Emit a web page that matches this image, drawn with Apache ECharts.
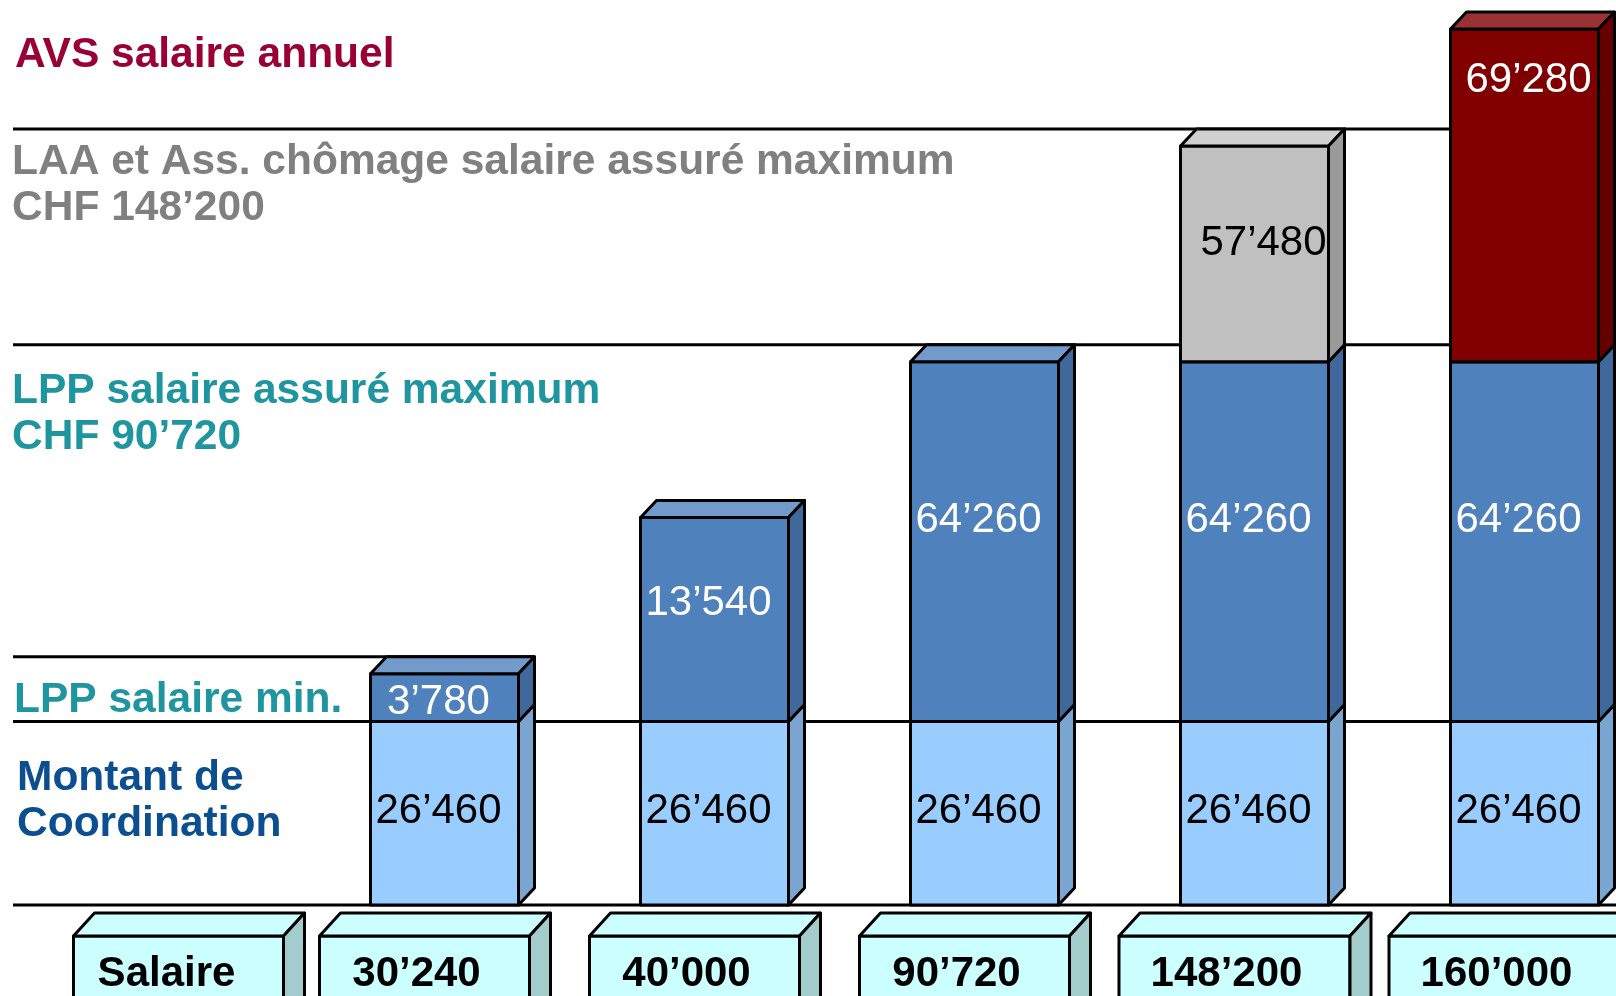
<!DOCTYPE html>
<html>
<head>
<meta charset="utf-8">
<title>Salaire assuré</title>
<script src="https://cdn.jsdelivr.net/npm/echarts@6.0.0/dist/echarts.min.js"></script>
<style>
  html, body { margin: 0; padding: 0; background: #fff; }
  #chart { width: 1616px; height: 996px; }
</style>
</head>
<body>
<div id="chart"></div>
<script>
// one bar per salary, stacked from the bottom up
const salaries = [30240, 40000, 90720, 148200, 160000]
const coordination = [26460, 26460, 26460, 26460, 26460]
const lppInsured = [3780, 13540, 64260, 64260, 64260]
const laaInsured = [null, null, null, 57480, null]
const avsAnnual = [null, null, null, null, 69280]
// band limits drawn as horizontal rules
const bandLevels = [0, 26460, 30240, 90720, 148200]
const headLabel = 'Salaire'

const fmt = v => String(v).replace(/\B(?=(\d{3})+(?!\d))/g, '\u2019')
const categories = [headLabel].concat(salaries.map(fmt))

const FONT = 'Liberation Sans, Arial, sans-serif'
const BAR_W = 148
const BAR_DX = 16
const BAR_DY = 17
const BAR_SHIFT = 20
const BOX_DX = 21
const BOX_DY = 23

// labelAt: where the value sits, as a share of the segment height from its top
const segments = [
  { name: 'Montant de coordination', values: coordination, text: '#000', labelAt: [0.49], labelDx: -6,
    colors: { front: '#99ccff', top: '#b3d9ff', side: '#7ba5d1' } },
  { name: 'LPP', values: lppInsured, text: '#fff', labelAt: [0.6, 0.42, 0.44, 0.44, 0.44], labelDx: -6,
    colors: { front: '#4f81bd', top: '#729acb', side: '#41689a' } },
  { name: 'LAA', values: laaInsured, text: '#000', labelAt: [0.45], labelDx: 9,
    colors: { front: '#c0c0c0', top: '#d0d0d0', side: '#9a9a9a' } },
  { name: 'AVS', values: avsAnnual, text: '#fff', labelAt: [0.155], labelDx: 4,
    colors: { front: '#800000', top: '#993333', side: '#660000' } }
]

function cube (x, yTop, yBot, w, dx, dy, c) {
  const l = x - w / 2
  const r = x + w / 2
  const line = { stroke: '#000', lineWidth: 3, lineJoin: 'round' }
  return [
    { type: 'polygon', shape: { points: [[l, yTop], [r, yTop], [r, yBot], [l, yBot]] }, style: Object.assign({ fill: c.front }, line) },
    { type: 'polygon', shape: { points: [[l, yTop], [l + dx, yTop - dy], [r + dx, yTop - dy], [r, yTop]] }, style: Object.assign({ fill: c.top }, line) },
    { type: 'polygon', shape: { points: [[r, yTop], [r + dx, yTop - dy], [r + dx, yBot - dy], [r, yBot]] }, style: Object.assign({ fill: c.side }, line) }
  ]
}

// running totals so each segment sits on the previous one
const base = salaries.map(() => 0)
const barSeries = segments.map(seg => {
  const data = []
  seg.values.forEach((v, i) => {
    if (v == null) return
    data.push([i + 1, base[i], base[i] + v, v])
    base[i] += v
  })
  return {
    type: 'custom',
    name: seg.name,
    clip: false,
    z: 3,
    encode: { x: 0, y: [1, 2] },
    data: data,
    renderItem (params, api) {
      const p0 = api.coord([api.value(0), api.value(1)])
      const p1 = api.coord([api.value(0), api.value(2)])
      const x = p0[0] + BAR_SHIFT
      const at = seg.labelAt[Math.min(api.value(0) - 1, seg.labelAt.length - 1)]
      const children = cube(x, p1[1], p0[1], BAR_W, BAR_DX, BAR_DY, seg.colors)
      children.push({
        type: 'text',
        x: x + seg.labelDx,
        y: p1[1] + at * (p0[1] - p1[1]),
        style: { text: fmt(api.value(3)), fill: seg.text, font: '42px ' + FONT, align: 'center', verticalAlign: 'middle' }
      })
      return { type: 'group', children: children }
    }
  }
})

const boxSeries = {
  type: 'custom',
  clip: false,
  z: 3,
  encode: { x: 0, y: 1 },
  data: categories.map((c, i) => [i, 0]),
  renderItem (params, api) {
    const i = api.value(0)
    const label = categories[i]
    const p = api.coord([i, 0])
    const x = p[0] + (i === 0 ? BAR_SHIFT + 4 : 0)
    const w = /^\d{3}/.test(label) ? 231 : 210
    const yTop = p[1] + 31
    const children = cube(x, yTop, yTop + 200, w, BOX_DX, BOX_DY, { front: '#ccffff', top: '#ccffff', side: '#a3cccc' })
    children.push({
      type: 'text',
      x: x - (i === 0 ? 12 : 8),
      y: yTop + 38,
      style: { text: label, fill: '#000', font: 'bold 42px ' + FONT, align: 'center', verticalAlign: 'middle' }
    })
    return { type: 'group', children: children }
  }
}

const ruleSeries = {
  type: 'custom',
  clip: false,
  z: 1,
  encode: { x: 0, y: 1 },
  data: bandLevels.map(v => [0, v]),
  renderItem (params, api) {
    const v = api.value(1)
    let y = api.coord([0, v])[1]
    // rules above the coordination amount follow the back edge of the boxes
    if (v > coordination[0]) y -= BAR_DY
    let x2 = api.getWidth()
    if (v === coordination[0] + lppInsured[0]) {
      x2 = api.coord([1, v])[0] + BAR_SHIFT + BAR_W / 2 + BAR_DX
    }
    return { type: 'line', shape: { x1: 13, y1: y, x2: x2, y2: y }, style: { stroke: '#000', lineWidth: 3 } }
  }
}

function note (text, x, y, color) {
  return {
    type: 'text',
    x: x,
    y: y,
    style: { text: text, fill: color, font: 'bold 42.5px ' + FONT, lineHeight: 46, align: 'left', verticalAlign: 'middle' }
  }
}

const chart = echarts.init(document.getElementById('chart'))
chart.setOption({
  animation: false,
  backgroundColor: '#fff',
  grid: { left: 19.5, width: 1620, top: 29, bottom: 91, outerBoundsMode: 'none' },
  xAxis: { type: 'category', data: categories, show: false },
  yAxis: {
    type: 'value',
    min: 0,
    max: 160000,
    show: false,
    // the slide is not to scale: long ranges are squeezed with hidden breaks
    breaks: [
      { start: 2000, end: 17000, gap: 0 },
      { start: 27000, end: 27800, gap: 0 },
      { start: 45000, end: 86000, gap: 0 },
      { start: 95000, end: 139000, gap: 0 },
      { start: 150000, end: 154500, gap: 0 }
    ],
    breakArea: { show: false }
  },
  graphic: [
    note('AVS salaire annuel', 15, 55, '#990033'),
    note('LAA et Ass. chômage salaire assuré maximum\nCHF 148\u2019200', 12, 185, '#808080'),
    note('LPP salaire assuré maximum\nCHF 90\u2019720', 12, 414, '#1f959f'),
    note('LPP salaire min.', 14, 700, '#1f959f'),
    note('Montant de\nCoordination', 17, 801, '#0b4f91')
  ],
  series: [ruleSeries].concat(barSeries, [boxSeries])
})
</script>
</body>
</html>
